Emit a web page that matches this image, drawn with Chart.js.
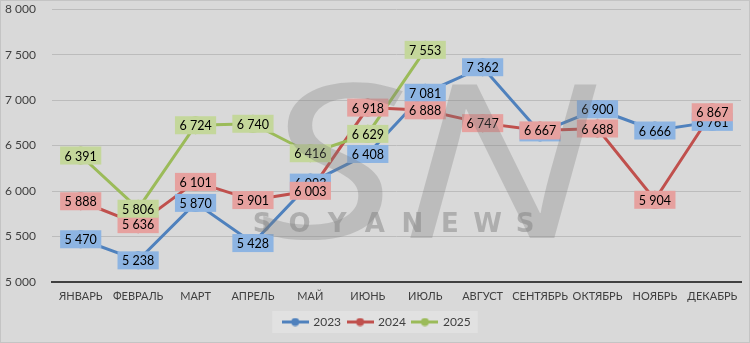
<!DOCTYPE html>
<html><head><meta charset="utf-8">
<script src="https://cdn.jsdelivr.net/npm/chart.js@4"></script>
<style>html,body{margin:0;padding:0;background:#d9d9d9;overflow:hidden;width:750px;height:343px}
#wrap{width:750px;height:349px;position:absolute;left:0;top:-6px}
#frame{position:absolute;left:0;top:0;width:748px;height:341px;border:1px solid #c4c4c4;pointer-events:none}</style>
</head><body><div id="wrap"><canvas id="c"></canvas></div><div id="frame"></div>
<script>
const months = ['ЯНВАРЬ','ФЕВРАЛЬ','МАРТ','АПРЕЛЬ','МАЙ','ИЮНЬ','ИЮЛЬ','АВГУСТ','СЕНТЯБРЬ','ОКТЯБРЬ','НОЯБРЬ','ДЕКАБРЬ'];
const seriesNames = ['2023','2024','2025'];
const values2023 = [5470,5238,5870,5428,6093,6408,7081,7362,6645,6900,6666,6761];
const values2024 = [5888,5636,6101,5901,6003,6918,6888,6747,6667,6688,5904,6867];
const values2025 = [6391,5806,6724,6740,6416,6629,7553,null,null,null,null,null];
const yTicks = [5000,5500,6000,6500,7000,7500,8000];

const lineColors = ['#4f81bd','#c0504d','#9bbb59'];
const labelColors = ['#8db4e2','#e6a19f','#c4d79b'];
const FONT = 'Lato, "Open Sans", "DejaVu Sans", sans-serif';

function fmt(v){ return String(v).replace(/\B(?=(\d{3})+(?!\d))/g,' '); }

function legendIcon(color){
  const c=document.createElement('canvas'); c.width=27; c.height=9;
  const x=c.getContext('2d');
  x.strokeStyle=color; x.lineWidth=3; x.beginPath(); x.moveTo(0,4.5); x.lineTo(27,4.5); x.stroke();
  x.fillStyle=color; x.beginPath(); x.arc(13.5,4.5,4,0,Math.PI*2); x.fill();
  return c;
}

const bgPlugin = {
  id:'bg',
  beforeDraw(chart){
    const ctx=chart.ctx; ctx.save();
    ctx.fillStyle='#d9d9d9'; ctx.fillRect(0,0,chart.width,chart.height);
    const lg=chart.legend;
    if(lg && lg.legendHitBoxes && lg.legendHitBoxes.length){
      const hb=lg.legendHitBoxes;
      let l=Infinity,r=-Infinity,t=Infinity,b=-Infinity;
      hb.forEach(h=>{l=Math.min(l,h.left);r=Math.max(r,h.left+h.width);t=Math.min(t,h.top);b=Math.max(b,h.top+h.height);});
      ctx.fillStyle='#e1e1e1'; ctx.fillRect(l-11,t-5,r-l+18,b-t+10);
    }
    ctx.restore();
  }
};

const labelPlugin = {
  id:'vlabels',
  afterDatasetsDraw(chart){
    const ctx=chart.ctx; ctx.save();
    ctx.font='12.5px '+FONT; ctx.textAlign='center'; ctx.textBaseline='middle';
    chart.data.datasets.forEach((ds,di)=>{
      const meta=chart.getDatasetMeta(di);
      meta.data.forEach((pt,i)=>{
        const v=ds.data[i]; if(v==null) return;
        const t=fmt(v); const w=ctx.measureText(t).width+9, h=18;
        ctx.fillStyle=labelColors[di]; ctx.fillRect(pt.x-w/2,pt.y-h/2,w,h);
        ctx.fillStyle='#000'; ctx.fillText(t,pt.x,pt.y+1);
      });
    });
    ctx.restore();
  }
};

const watermarkPlugin = {
  id:'wm',
  afterDraw(chart){
    const ctx=chart.ctx; ctx.save();
    ctx.globalAlpha=0.3; ctx.fillStyle='#7a7a7a';
    ctx.textAlign='left'; ctx.textBaseline='alphabetic';
    ctx.save();
    ctx.translate(258,244); ctx.scale(1.3,1);
    ctx.font='italic 400 215px "Open Sans", sans-serif';
    ctx.fillText('SN',0,0);
    ctx.restore();
    ctx.globalAlpha=0.45;
    ctx.font='bold 26px "DejaVu Sans", sans-serif'; ctx.textAlign='center';
    'SOYANEWS'.split('').forEach((ch,i)=>ctx.fillText(ch,262+i*37.6,238));
    ctx.restore();
  }
};

const datasets = [values2023,values2024,values2025].map((d,i)=>({
  label:seriesNames[i], data:d, borderColor:lineColors[i], backgroundColor:lineColors[i],
  borderWidth:3, pointRadius:9, pointBorderWidth:0, pointBackgroundColor:lineColors[i],
  tension:0, spanGaps:false, order:3-i
}));

new Chart(document.getElementById('c'),{
  type:'line',
  data:{labels:months,datasets},
  options:{
    responsive:true, maintainAspectRatio:false, animation:false,
    events:[],
    layout:{padding:{left:5,right:1,top:2,bottom:5}},
    plugins:{
      tooltip:{enabled:false},
      legend:{position:'bottom',
        labels:{font:{family:FONT,size:12},color:'#404040',padding:7,boxWidth:24,boxHeight:9,
          usePointStyle:true,pointStyleWidth:24,
          generateLabels(chart){return chart.data.datasets.map((ds,i)=>({text:ds.label,pointStyle:legendIcon(lineColors[i]),fontColor:'#404040',datasetIndex:i,lineWidth:0,strokeStyle:'transparent',fillStyle:lineColors[i]}));}
        }}
    },
    scales:{
      x:{offset:true,grid:{display:false,drawTicks:false},border:{display:true,color:'#404040',width:2},
        ticks:{font:{family:FONT,size:11},color:'#404040',padding:8,maxRotation:0,autoSkip:false},
        afterFit(s){s.height=27;}},
      y:{min:5000,max:8000,
        afterBuildTicks(s){s.ticks=yTicks.map(v=>({value:v}));},
        grid:{color:ctx=>ctx.tick&&ctx.tick.value===5000?'#404040':'#bcbcbc',lineWidth:ctx=>ctx.tick&&ctx.tick.value===5000?2:1,drawTicks:false},
        border:{display:false},
        ticks:{font:{family:FONT,size:12},color:'#404040',crossAlign:'far',padding:8,callback:v=>fmt(v)},
        afterFit(s){s.width=47;}}
    }
  },
  plugins:[bgPlugin,labelPlugin,watermarkPlugin]
});
</script></body></html>
